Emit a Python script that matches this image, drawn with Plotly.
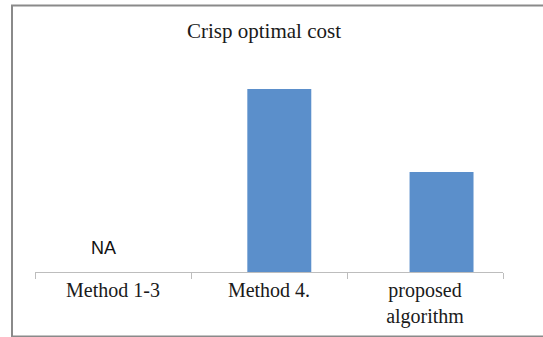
import plotly.graph_objects as go

categories = ["Method 1-3", "Method 4.", "proposed<br>algorithm"]
costs = [None, 183, 100]
na_label = "NA"
title_text = "Crisp optimal cost"

W, H = 543, 337
ml, mr, mt, mb = 35, 40, 60, 65
pw = W - ml - mr
ph = H - mt - mb

def px_x(x):
    return (x - ml) / pw

def px_y(y):
    return (H - mb - y) / ph

fig = go.Figure()
fig.add_trace(go.Bar(
    x=categories, y=costs,
    marker=dict(color="#5b8fcb", line=dict(width=0)),
    width=0.41, offset=[-0.12, -0.139, -0.099],
    hoverinfo="skip",
))

fig.add_annotation(
    x=categories[0], xref="x", xshift=-10,
    y=px_y(248), yref="paper", yanchor="middle",
    text=na_label, showarrow=False,
    font=dict(family="Liberation Sans, Arial, sans-serif", size=18, color="#111111"),
)

x0, x1 = px_x(12), px_x(548)
y0, y1 = px_y(5.5), px_y(336.5)
fig.add_shape(
    type="path", xref="paper", yref="paper",
    path=f"M {x1} {y0} L {x0} {y0} L {x0} {y1} L {x1} {y1}",
    line=dict(color="#8a8a8a", width=2),
)

fig.update_layout(
    width=W, height=H,
    margin=dict(l=ml, r=mr, t=mt, b=mb, autoexpand=False),
    paper_bgcolor="white", plot_bgcolor="white",
    showlegend=False,
    title=dict(
        text=title_text, x=264 / W, xref="container", xanchor="center",
        y=1 - 31 / H, yref="container", yanchor="middle",
        font=dict(family="Liberation Serif, Times New Roman, serif", size=21, color="#1a1a1a"),
    ),
    xaxis=dict(
        type="category", showline=True, linecolor="#bdbdbd", linewidth=1,
        ticks="outside", tickson="boundaries", ticklen=6, tickcolor="#bdbdbd",
        tickfont=dict(family="Liberation Serif, Times New Roman, serif", size=20, color="#1a1a1a"),
        showgrid=False, zeroline=False, range=[-0.5, 2.5], automargin=False,
    ),
    yaxis=dict(visible=False, range=[0, ph], automargin=False),
)

fig.write_html(
    "out.html",
    config={"displayModeBar": False, "staticPlot": True},
    post_script="document.body.style.margin='0';document.body.style.padding='0';document.documentElement.style.overflow='hidden';",
)
